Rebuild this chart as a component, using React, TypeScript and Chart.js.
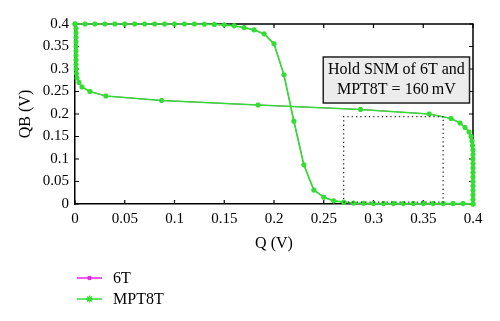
import React, { useEffect, useRef } from "react";
import { Chart, registerables } from "chart.js";

Chart.register(...registerables);

// Q sweep (V)
const Q_VALUES = [
  0, 0.01, 0.02, 0.03, 0.04, 0.05, 0.06, 0.07, 0.08, 0.09,
  0.1, 0.11, 0.12, 0.13, 0.14, 0.15, 0.16, 0.17, 0.18, 0.19,
  0.2, 0.21, 0.22, 0.23, 0.24, 0.25, 0.26, 0.27, 0.28, 0.29,
  0.3, 0.31, 0.32, 0.33, 0.34, 0.35, 0.36, 0.37, 0.38, 0.39, 0.4,
];
// QB response (V) of the inverter
const QB_VALUES = [
  0.4, 0.4, 0.4, 0.4, 0.4, 0.4, 0.4, 0.4, 0.4, 0.4,
  0.4, 0.4, 0.4, 0.3995, 0.399, 0.398, 0.396, 0.392, 0.387, 0.378,
  0.356, 0.287, 0.184, 0.087, 0.031, 0.015, 0.007, 0.004, 0.002, 0.0015,
  0.001, 0.001, 0.001, 0.001, 0.001, 0.001, 0.001, 0.001, 0.001, 0.001, 0,
];
// SNM square (dotted)
const SNM_X = [0.27, 0.37, 0.37, 0.27, 0.27];
const SNM_Y = [0.004, 0.004, 0.194, 0.194, 0.004];

const X_TICKS = [0, 0.05, 0.1, 0.15, 0.2, 0.25, 0.3, 0.35, 0.4];
const X_TICK_LABELS = ["0", "0.05", "0.1", "0.15", "0.2", "0.25", "0.3", "0.35", "0.4"];
const Y_TICKS = [0, 0.05, 0.1, 0.15, 0.2, 0.25, 0.3, 0.35, 0.4];
const Y_TICK_LABELS = ["0", "0.05", "0.1", "0.15", "0.2", "0.25", "0.3", "0.35", "0.4"];

const SERIES_NAMES = ["6T", "MPT8T"];
const NOTE_LINES = ["Hold SNM of 6T and", "MPT8T = 160\u2009mV"];

const GREEN = "#33dd33";
const MAGENTA = "#ee22ee";
const FONT = '"Liberation Serif", "Times New Roman", serif';

const curveA = Q_VALUES.map((q, i) => ({ x: q, y: QB_VALUES[i] }));
const curveB = Q_VALUES.map((q, i) => ({ x: QB_VALUES[i], y: q }));
const snmBox = SNM_X.map((x, i) => ({ x, y: SNM_Y[i] }));

const decorPlugin = {
  id: "decor",
  beforeDatasetsDraw(chart: any) {
    const { ctx, chartArea } = chart;
    const xs = chart.scales.x;
    const ys = chart.scales.y;
    const { left, right, top, bottom } = chartArea;
    ctx.save();
    ctx.strokeStyle = "#000";
    ctx.lineWidth = 1.5;
    ctx.beginPath();
    ctx.moveTo(left, top);
    ctx.lineTo(right, top);
    ctx.lineTo(right, bottom);
    ctx.stroke();
    ctx.lineWidth = 1.2;
    ctx.beginPath();
    X_TICKS.forEach((v) => {
      const px = xs.getPixelForValue(v);
      ctx.moveTo(px, bottom);
      ctx.lineTo(px, bottom - 4);
      ctx.moveTo(px, top);
      ctx.lineTo(px, top + 4);
    });
    Y_TICKS.forEach((v) => {
      const py = ys.getPixelForValue(v);
      ctx.moveTo(left, py);
      ctx.lineTo(left + 4, py);
      ctx.moveTo(right, py);
      ctx.lineTo(right - 4, py);
    });
    ctx.stroke();
    ctx.restore();
  },
  afterDraw(chart: any) {
    const { ctx, chartArea } = chart;
    const xs = chart.scales.x;
    const ys = chart.scales.y;
    const { left, right, top, bottom } = chartArea;
    ctx.save();
    // axis titles
    ctx.fillStyle = "#000";
    ctx.font = `16px ${FONT}`;
    ctx.textAlign = "center";
    ctx.textBaseline = "middle";
    ctx.fillText("Q (V)", (left + right) / 2, 244);
    ctx.save();
    ctx.translate(26, (top + bottom) / 2);
    ctx.rotate(-Math.PI / 2);
    ctx.fillText("QB (V)", 0, 0);
    ctx.restore();

    // annotation box
    const bx0 = xs.getPixelForValue(0.2495);
    const bx1 = xs.getPixelForValue(0.3965);
    const by0 = ys.getPixelForValue(0.3267);
    const by1 = ys.getPixelForValue(0.2244);
    ctx.fillStyle = "#ececec";
    ctx.fillRect(bx0, by0, bx1 - bx0, by1 - by0);
    ctx.strokeStyle = "#222";
    ctx.lineWidth = 1.5;
    ctx.strokeRect(bx0, by0, bx1 - bx0, by1 - by0);
    ctx.fillStyle = "#000";
    ctx.font = `16px ${FONT}`;
    ctx.textAlign = "center";
    ctx.textBaseline = "alphabetic";
    const cx = (bx0 + bx1) / 2;
    ctx.fillText(NOTE_LINES[0], cx, by0 + 17);
    ctx.fillText(NOTE_LINES[1], cx, by0 + 37);

    // legend
    const items = [
      { label: SERIES_NAMES[0], color: MAGENTA, style: "circle", y: 278 },
      { label: SERIES_NAMES[1], color: GREEN, style: "star", y: 299 },
    ];
    items.forEach((it) => {
      ctx.strokeStyle = it.color;
      ctx.lineWidth = 1.5;
      ctx.beginPath();
      ctx.moveTo(77, it.y);
      ctx.lineTo(102, it.y);
      ctx.stroke();
      ctx.fillStyle = it.color;
      if (it.style === "circle") {
        ctx.beginPath();
        ctx.arc(89.5, it.y, 2.2, 0, Math.PI * 2);
        ctx.fill();
      } else {
        ctx.lineWidth = 1.3;
        ctx.beginPath();
        const r = 3.5;
        for (let k = 0; k < 4; k++) {
          const a = (k * Math.PI) / 4;
          ctx.moveTo(89.5 - r * Math.cos(a), it.y - r * Math.sin(a));
          ctx.lineTo(89.5 + r * Math.cos(a), it.y + r * Math.sin(a));
        }
        ctx.stroke();
      }
      ctx.fillStyle = "#000";
      ctx.font = `16px ${FONT}`;
      ctx.textAlign = "left";
      ctx.textBaseline = "middle";
      ctx.fillText(it.label, 113, it.y + 1);
    });
    ctx.restore();
  },
};

export default function App() {
  const ref = useRef<HTMLCanvasElement>(null);
  useEffect(() => {
    if (!ref.current) return;
    const chart = new Chart(ref.current, {
      type: "scatter",
      data: {
        datasets: [
          {
            label: SERIES_NAMES[0],
            data: curveA,
            showLine: true,
            borderWidth: 1,
            borderColor: MAGENTA,
            backgroundColor: MAGENTA,
            pointStyle: "circle",
            pointRadius: 1.2,
            pointBorderWidth: 0,
            clip: false,
            order: 3,
          },
          {
            label: SERIES_NAMES[0] + " (mirror)",
            data: curveB,
            showLine: true,
            borderWidth: 1,
            borderColor: MAGENTA,
            backgroundColor: MAGENTA,
            pointStyle: "circle",
            pointRadius: 1.2,
            pointBorderWidth: 0,
            clip: false,
            order: 3,
          },
          {
            label: SERIES_NAMES[1],
            data: curveA,
            showLine: true,
            borderWidth: 1.7,
            borderColor: GREEN,
            backgroundColor: GREEN,
            pointStyle: "star",
            pointRadius: 2.6,
            pointBorderWidth: 1.7,
            clip: false,
            order: 2,
          },
          {
            label: SERIES_NAMES[1] + " (mirror)",
            data: curveB,
            showLine: true,
            borderWidth: 1.7,
            borderColor: GREEN,
            backgroundColor: GREEN,
            pointStyle: "star",
            pointRadius: 2.6,
            pointBorderWidth: 1.7,
            clip: false,
            order: 2,
          },
          {
            label: "SNM",
            data: snmBox,
            showLine: true,
            borderColor: "#333",
            borderWidth: 1.3,
            borderDash: [1.3, 3],
            pointRadius: 0,
            order: 1,
          },
        ],
      },
      options: {
        animation: false,
        responsive: true,
        maintainAspectRatio: false,
        layout: { padding: { top: 24, right: 27, left: 0, bottom: 0 } },
        plugins: {
          legend: { display: false },
          tooltip: { enabled: false },
        },
        scales: {
          x: {
            type: "linear",
            min: 0,
            max: 0.4,
            afterBuildTicks: (s: any) => {
              s.ticks = X_TICKS.map((v) => ({ value: v }));
            },
            afterFit: (s: any) => {
              s.height = 117;
            },
            ticks: {
              padding: 6,
              color: "#000",
              font: { family: FONT, size: 15 },
              maxRotation: 0,
              callback: (_v: any, i: number) => X_TICK_LABELS[i],
            },
            grid: { display: true, drawOnChartArea: false, drawTicks: false },
            border: { display: true, color: "#000", width: 1.5 },
          },
          y: {
            type: "linear",
            min: 0,
            max: 0.4,
            afterBuildTicks: (s: any) => {
              s.ticks = Y_TICKS.map((v) => ({ value: v }));
            },
            afterFit: (s: any) => {
              s.width = 75;
            },
            ticks: {
              padding: 6,
              color: "#000",
              font: { family: FONT, size: 15 },
              callback: (_v: any, i: number) => Y_TICK_LABELS[i],
            },
            grid: { display: true, drawOnChartArea: false, drawTicks: false },
            border: { display: true, color: "#000", width: 1.5 },
          },
        },
      },
      plugins: [decorPlugin],
    });
    return () => chart.destroy();
  }, []);
  return (
    <div style={{ position: "absolute", left: 0, top: 0, width: 500, height: 321, background: "#fff" }}>
      <canvas ref={ref} />
    </div>
  );
}
